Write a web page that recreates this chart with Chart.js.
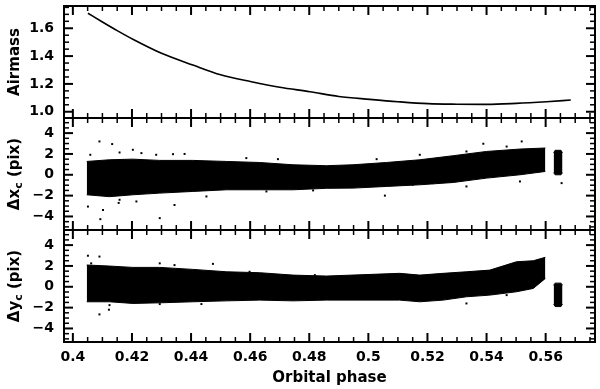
<!DOCTYPE html>
<html>
<head>
<meta charset="utf-8">
<script src="https://cdn.jsdelivr.net/npm/chart.js@4"></script>
<style>
  body { margin: 0; background: #fff; }
  #wrap { position: relative; width: 600px; height: 389px; }
  #wrap canvas { position: absolute; left: 0; top: 0; }
</style>
</head>
<body>
<div id="wrap">
  <canvas id="painel-airmass" width="600" height="389"></canvas>
  <canvas id="painel-dx" width="600" height="389"></canvas>
  <canvas id="painel-dy" width="600" height="389"></canvas>
</div>
<script>
// tick labels
var xTicks = [0.4, 0.42, 0.44, 0.46, 0.48, 0.5, 0.52, 0.54, 0.56];
var airTicks = [1.0, 1.2, 1.4, 1.6];
var deltaTicks = [-4, -2, 0, 2, 4];

// airmass curve
var airPhase = [0.4051, 0.41, 0.415, 0.4203, 0.43, 0.4406, 0.45, 0.4604, 0.47, 0.4802, 0.49, 0.5005, 0.51, 0.5202, 0.53, 0.54, 0.55, 0.5603, 0.5685];
var airmass = [1.708, 1.645, 1.583, 1.521, 1.42, 1.336, 1.266, 1.216, 1.176, 1.144, 1.11, 1.089, 1.072, 1.058, 1.054, 1.053, 1.06, 1.072, 1.084];

// delta x_c : dense cloud upper / lower edge
var dxPhase = [0.4047, 0.4124, 0.4203, 0.4294, 0.4406, 0.452, 0.4632, 0.4745, 0.4858, 0.4948, 0.5061, 0.5174, 0.5287, 0.54, 0.5513, 0.5599];
var dxUpper = [1.28, 1.44, 1.5, 1.38, 1.38, 1.28, 1.18, 0.96, 0.87, 0.96, 1.18, 1.44, 1.83, 2.24, 2.47, 2.57];
var dxLower = [-1.92, -2.1, -1.92, -1.76, -1.6, -1.44, -1.44, -1.44, -1.3, -1.28, -1.12, -0.96, -0.74, -0.32, 0.0, 0.32];
var dxPhase2 = [0.5627, 0.5632, 0.5652, 0.5657];
var dxUpper2 = [2.1, 2.35, 2.35, 2.1];
var dxLower2 = [0.2, 0.0, 0.0, 0.2];
var dxOutPhase = [0.409, 0.4133, 0.4203, 0.4378, 0.4093, 0.4294, 0.4051, 0.4102, 0.4344, 0.5389, 0.5519, 0.5332, 0.5056, 0.5654, 0.4155,
  0.4059, 0.4158, 0.4232, 0.4282, 0.4339, 0.4587, 0.4694, 0.4158, 0.4215, 0.4452, 0.4655, 0.4813, 0.5028, 0.5174, 0.5332, 0.5468, 0.515, 0.5219, 0.5513];
var dxOutVal = [3.2, 2.95, 2.4, 2.0, -4.26, -4.16, -3.05, -3.37, -2.9, 2.98, 3.2, -1.12, -2.0, -0.8, -2.7,
  1.92, 2.14, 2.08, 1.92, 1.98, 1.6, 1.5, -2.4, -2.56, -2.08, -1.6, -1.5, 1.5, 1.92, 2.24, 2.71, -0.96, -0.8, -0.64];

// delta y_c
var dyPhase = [0.4047, 0.4124, 0.4203, 0.4294, 0.4406, 0.452, 0.4632, 0.4745, 0.4858, 0.5106, 0.5174, 0.5253, 0.5332, 0.5411, 0.5501, 0.5558, 0.5599];
var dyUpper = [2.09, 1.99, 1.86, 1.86, 1.67, 1.44, 1.35, 1.12, 1.03, 1.29, 1.12, 1.29, 1.44, 1.6, 2.4, 2.5, 2.83];
var dyLower = [-1.44, -1.44, -1.6, -1.54, -1.44, -1.35, -1.28, -1.35, -1.28, -1.28, -1.44, -1.28, -0.96, -0.8, -0.48, -0.16, 0.8];
var dyPhase2 = [0.5627, 0.5632, 0.5652, 0.5657];
var dyUpper2 = [0.15, 0.35, 0.35, 0.15];
var dyLower2 = [-1.65, -1.9, -1.9, -1.65];
var dyOutPhase = [0.4051, 0.409, 0.409, 0.4474, 0.4435, 0.4122, 0.5332, 0.4062, 0.4294, 0.4344, 0.4598, 0.4819, 0.4124, 0.4294, 0.5468];
var dyOutVal = [2.98, 2.9, -2.65, 2.2, -1.66, -2.2, -1.6, 2.25, 2.25, 2.08, 1.44, 1.12, -1.76, -1.66, -0.8];

var fonte = { family: 'DejaVu Sans', size: 14, weight: 'bold' };

function pts(xs, ys) {
  return xs.map(function (x, i) { return { x: x, y: ys[i] }; });
}

function banda(xs, up, lo) {
  return [
    { data: pts(xs, up), borderColor: '#000', borderWidth: 1, pointRadius: 0, fill: false },
    { data: pts(xs, lo), borderColor: '#000', borderWidth: 1, pointRadius: 0, fill: '-1', backgroundColor: '#000' }
  ];
}

function pontos(xs, ys) {
  return { data: pts(xs, ys), showLine: false, pointStyle: 'rect', pointRadius: 1.4, pointBackgroundColor: '#000', pointBorderWidth: 0 };
}

function eachTick(min, max, step, major, fn) {
  for (var i = Math.ceil(min / step - 1e-9); i <= Math.floor(max / step + 1e-9); i++) {
    var v = i * step;
    fn(v, Math.abs(v / major - Math.round(v / major)) < 1e-6);
  }
}

// frame, inward ticks and y title (with subscript)
var moldura = {
  id: 'moldura',
  afterDraw: function (chart, args, o) {
    var ctx = chart.ctx, a = chart.chartArea, x = chart.scales.x, y = chart.scales.y;
    ctx.save();
    ctx.strokeStyle = '#000';
    function linha(x1, y1, x2, y2) { ctx.beginPath(); ctx.moveTo(x1, y1); ctx.lineTo(x2, y2); ctx.stroke(); }
    eachTick(x.min, x.max, 0.005, 0.02, function (v, maj) {
      var p = x.getPixelForValue(v), l = maj ? 9 : 5;
      ctx.lineWidth = maj ? 2 : 1.5;
      linha(p, a.top, p, a.top + l);
      linha(p, a.bottom, p, a.bottom - l);
    });
    eachTick(y.min, y.max, o.minor, o.major, function (v, maj) {
      var p = y.getPixelForValue(v), l = maj ? 9 : 5;
      ctx.lineWidth = maj ? 2 : 1.5;
      linha(a.left, p, a.left + l, p);
      linha(a.right, p, a.right - l, p);
    });
    ctx.lineWidth = 2;
    ctx.strokeRect(a.left, a.top, a.right - a.left, a.bottom - a.top);

    ctx.translate(15, (a.top + a.bottom) / 2);
    ctx.rotate(-Math.PI / 2);
    ctx.fillStyle = '#000';
    ctx.textBaseline = 'middle';
    var big = 'bold 15px "DejaVu Sans"', small = 'bold 11px "DejaVu Sans"';
    var total = 0;
    o.title.forEach(function (t) { ctx.font = t.sub ? small : big; total += ctx.measureText(t.text).width; });
    var cx = -total / 2;
    o.title.forEach(function (t) {
      ctx.font = t.sub ? small : big;
      ctx.fillText(t.text, cx, t.sub ? 4 : 0);
      cx += ctx.measureText(t.text).width;
    });
    ctx.restore();
  }
};

function painel(id, datasets, yMin, yMax, yTicks, fmt, minor, major, title, padTop, padBottom, showX) {
  var ctx = document.getElementById(id).getContext('2d');
  return new Chart(ctx, {
    type: 'line',
    data: { datasets: datasets },
    plugins: [moldura],
    options: {
      responsive: false,
      animation: false,
      layout: { padding: { top: padTop, bottom: padBottom, left: 0, right: 5 } },
      plugins: {
        legend: { display: false },
        tooltip: { enabled: false },
        moldura: { minor: minor, major: major, title: title }
      },
      scales: {
        x: {
          type: 'linear',
          min: 0.397,
          max: 0.5767,
          display: showX,
          grid: { display: false, drawTicks: false },
          border: { display: false },
          afterBuildTicks: function (s) { s.ticks = xTicks.map(function (v) { return { value: v }; }); },
          afterFit: function (s) { if (showX) s.height = 47; s.paddingLeft = 0; s.paddingRight = 0; },
          ticks: {
            color: '#000', font: fonte, padding: 7, maxRotation: 0, autoSkip: false,
            callback: function (v) { return String(+v.toFixed(2)); }
          },
          title: { display: showX, text: 'Orbital phase', color: '#000', font: { family: 'DejaVu Sans', size: 15, weight: 'bold' }, padding: { top: 0, bottom: 2 } }
        },
        y: {
          min: yMin,
          max: yMax,
          grid: { display: false, drawTicks: false },
          border: { display: false },
          afterBuildTicks: function (s) { s.ticks = yTicks.map(function (v) { return { value: v }; }); },
          afterFit: function (s) { s.width = 64; s.paddingTop = 0; s.paddingBottom = 0; },
          ticks: { color: '#000', font: fonte, padding: 10, callback: fmt }
        }
      }
    }
  });
}

function fmtDelta(v) { return v < 0 ? '\u2212' + Math.abs(v) : String(v); }

painel('painel-airmass',
  [{ data: pts(airPhase, airmass), borderColor: '#000', borderWidth: 1.6, pointRadius: 0, fill: false, cubicInterpolationMode: 'monotone' }],
  0.955, 1.76, airTicks, function (v) { return v.toFixed(1); }, 0.05, 0.2,
  [{ text: 'Airmass' }], 6, 271, false);

painel('painel-dx',
  banda(dxPhase, dxUpper, dxLower).concat(banda(dxPhase2, dxUpper2, dxLower2), [pontos(dxOutPhase, dxOutVal)]),
  -5.3, 5.45, deltaTicks, fmtDelta, 0.5, 2,
  [{ text: '\u0394x' }, { text: 'c', sub: true }, { text: ' (pix)' }], 118, 159, false);

painel('painel-dy',
  banda(dyPhase, dyUpper, dyLower).concat(banda(dyPhase2, dyUpper2, dyLower2), [pontos(dyOutPhase, dyOutVal)]),
  -5.3, 5.45, deltaTicks, fmtDelta, 0.5, 2,
  [{ text: '\u0394y' }, { text: 'c', sub: true }, { text: ' (pix)' }], 230, 0, true);
</script>
</body>
</html>
